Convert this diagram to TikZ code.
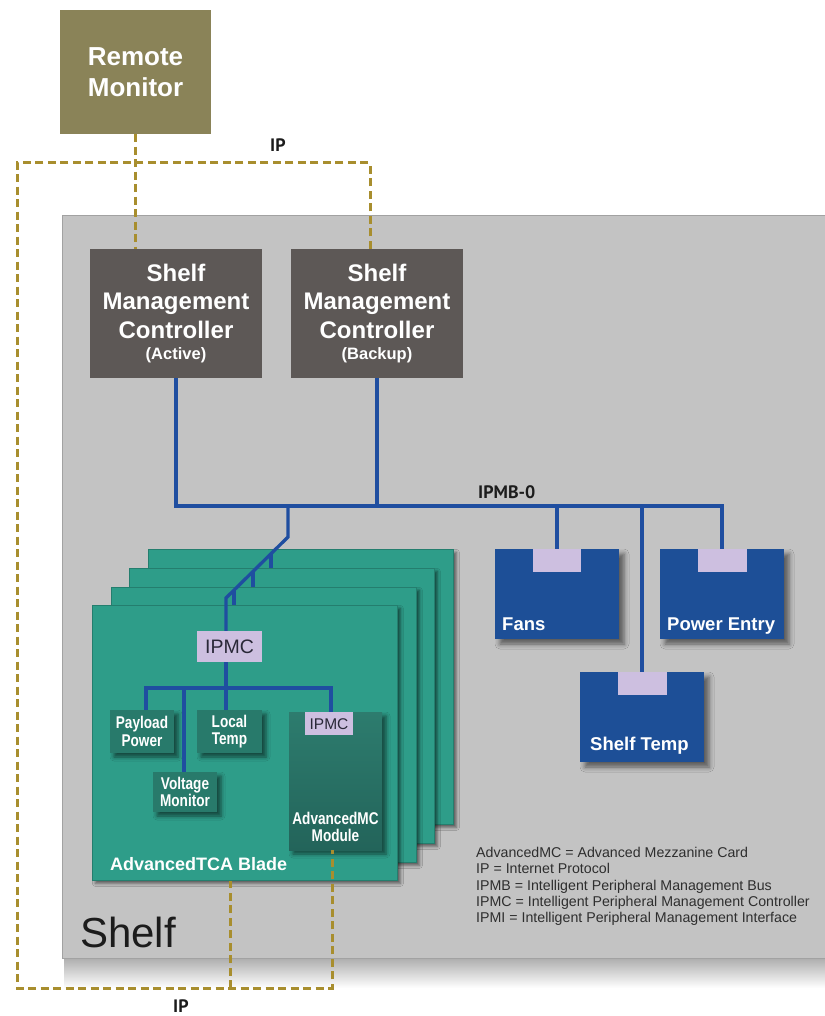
\documentclass[tikz,border=0pt]{standalone}
\usepackage{fontspec}
\setmainfont{Liberation Sans}
\newfontfamily\condfont[FakeStretch=0.8]{Liberation Sans}
\newfontfamily\busfont{PT Sans}
\usetikzlibrary{shadows.blur,calc}

\definecolor{moncol}{HTML}{8A8358}
\definecolor{smccol}{HTML}{5D5856}
\definecolor{shelfcol}{HTML}{C3C3C3}
\definecolor{shelfedge}{HTML}{A2A2A2}
\definecolor{unitcol}{HTML}{1D4F97}
\definecolor{tabcol}{HTML}{CDBFE0}
\definecolor{bladecol}{HTML}{2E9D89}
\definecolor{bladeedge}{HTML}{247E6E}
\definecolor{modcol}{HTML}{287A6B}
\definecolor{amctop}{HTML}{2D7C6E}
\definecolor{amcbot}{HTML}{23645A}
\definecolor{buscol}{HTML}{1F4EA0}
\definecolor{ipcol}{HTML}{A88E2E}
\definecolor{inktext}{HTML}{1C1C1C}
\definecolor{legtext}{HTML}{2E2E2E}
\definecolor{tabtext}{HTML}{2A2838}

\tikzset{
  softshadow/.style={blur shadow={shadow xshift=#1, shadow yshift=-#1,
      shadow blur radius=#1, shadow opacity=55}},
  boxtext/.style={text=white, align=center, inner sep=0pt},
  monbox/.style={boxtext, fill=moncol, minimum width=151pt, minimum height=124pt,
      font=\bfseries\fontsize{26}{31.5}\selectfont},
  smcbox/.style={boxtext, fill=smccol, minimum width=172pt, minimum height=129pt,
      font=\bfseries\fontsize{24}{28.5}\selectfont},
  shelfbox/.style={fill=shelfcol, draw=shelfedge, line width=1pt, inner sep=0pt},
  unitbox/.style={fill=unitcol, minimum width=124pt, minimum height=90pt, inner sep=0pt,
      softshadow=5pt},
  tabbox/.style={fill=tabcol, inner sep=0pt, text=tabtext},
  unitlab/.style={text=white, inner sep=0pt, font=\bfseries\fontsize{18.5}{22}\selectfont},
  blade/.style={fill=bladecol, draw=bladeedge, line width=0.8pt, minimum width=305pt,
      minimum height=275pt, inner sep=0pt, softshadow=3pt},
  modbox/.style={boxtext, fill=modcol, softshadow=4pt,
      font=\condfont\bfseries\fontsize{17}{17.5}\selectfont},
  bus/.style={draw=buscol, line width=3.3pt},
  iplink/.style={draw=ipcol, line width=3pt, dash pattern=on 8pt off 4.5pt},
  buslab/.style={inner sep=0pt, text=inktext, font=\busfont\bfseries\fontsize{18}{20}\selectfont},
}

\begin{document}
\begin{tikzpicture}[x=1pt,y=-1pt]
\useasboundingbox (0,0) rectangle (824,1016);
\fill[white] (0,0) rectangle (824,1016);

% soft shadow under the shelf enclosure
\shade[top color=black!32, bottom color=white] (64,958) rectangle (850,988);

% the shelf enclosure
\node[shelfbox, anchor=north west, minimum width=790pt, minimum height=743pt] (shelf) at (62,215) {};
\node[inner sep=0pt, anchor=base west, text=inktext, font=\fontsize{42}{46}\selectfont]
  (shelfname) at (80,947) {Shelf};

% remote monitor and shelf managers
\node[monbox] (remote) at (135.5,72) {Remote\\Monitor};
\node[smcbox] (smcA) at (176,313.5)
  {Shelf\\Management\\Controller\\[-7.5pt]{\fontsize{16.5}{19}\selectfont(Active)}};
\node[smcbox] (smcB) at (377,313.5)
  {Shelf\\Management\\Controller\\[-7.5pt]{\fontsize{16.5}{19}\selectfont(Backup)}};

% shelf-level units on IPMB-0
\node[unitbox] (fans) at (557,594) {};
\node[unitbox] (power) at (722,594) {};
\node[unitbox] (stemp) at (642,717) {};
\node[tabbox, anchor=north, minimum width=48pt, minimum height=23pt] (fanstab) at (fans.north) {};
\node[tabbox, anchor=north, minimum width=49pt, minimum height=23pt] (powertab) at (power.north) {};
\node[tabbox, anchor=north, minimum width=49pt, minimum height=23pt] (stemptab) at (stemp.north) {};
\node[unitlab, anchor=base west] (fanslab) at (502,630) {Fans};
\node[unitlab, anchor=base west] (powerlab) at (667,630) {Power Entry};
\node[unitlab, anchor=base west] (stemplab) at (590,750) {Shelf Temp};

% stack of AdvancedTCA blades, back to front
\node[blade, anchor=north west] (blade4) at (148,549) {};
\node[blade, anchor=north west] (blade3) at (129,568) {};
\node[blade, anchor=north west] (blade2) at (111,587) {};
\node[blade, anchor=north west] (blade1) at (92,605) {};
\node[text=white, inner sep=0pt, anchor=base west, font=\bfseries\fontsize{18}{20}\selectfont]
  (bladename) at (110,870) {AdvancedTCA Blade};

% front blade contents
\node[tabbox, minimum width=65pt, minimum height=31pt, font=\fontsize{19.5}{22}\selectfont]
  (ipmc) at (229.5,646.5) {IPMC};
\node[modbox, minimum width=64pt, minimum height=43pt] (pp) at (142,731.5) {Payload\\Power};
\node[modbox, minimum width=65pt, minimum height=43pt] (lt) at (229.5,731.5) {Local\\Temp};
\node[modbox, minimum width=64pt, minimum height=40pt] (vm) at (185,792) {Voltage\\Monitor};
\node[inner sep=0pt, minimum width=93pt, minimum height=138pt, softshadow=4pt,
  top color=amctop, bottom color=amcbot] (amc) at (335.5,781) {};
\node[tabbox, anchor=north, minimum width=48pt, minimum height=23pt, font=\fontsize{15.5}{18}\selectfont]
  (amctab) at (329,712) {IPMC};
\node[boxtext, anchor=south, font=\condfont\bfseries\fontsize{17}{17.5}\selectfont]
  (amcname) at ([yshift=8pt]amc.south) {AdvancedMC\\Module};

% IPMB-0 bus
\coordinate (busY) at (0,506);
\draw[bus] (smcA.south) |- (busY -| powertab.north) -- (powertab.north);
\draw[bus] (smcB.south) -- (smcB.south |- busY);
\draw[bus] (fanstab.north) -- (fanstab.north |- busY);
\draw[bus] (stemptab.north) -- (stemptab.north |- busY);
\node[buslab, anchor=base west] (ipmb) at (478,498) {IPMB-0};

% feed into the blade stack
\coordinate (tap) at (288,506);
\coordinate (bend1) at (288,537);
\coordinate (bend2) at (226,598);
\draw[bus] (tap) -- (bend1) -- (bend2) -- (bend2 |- ipmc.north);
\draw[bus] ($(bend1)!0.274!(bend2)$) coordinate (t4) -- (t4 |- blade3.north);
\draw[bus] ($(bend1)!0.565!(bend2)$) coordinate (t3) -- (t3 |- blade2.north);
\draw[bus] ($(bend1)!0.871!(bend2)$) coordinate (t2) -- (t2 |- blade1.north);

% local IPMB inside the front blade
\coordinate (brY) at (0,688);
\draw[bus] (bend2 |- ipmc.south) -- (bend2 |- lt.north);
\draw[bus] ([xshift=4pt]pp.north) |- ([xshift=2pt]amctab.north |- brY) -- ([xshift=2pt]amctab.north);
\draw[bus] ([xshift=-1pt]vm.north) -- ([xshift=-1pt]vm.north |- brY);

% IP network links
\coordinate (ipTL) at (17,163);
\coordinate (ipTR) at (370,163);
\coordinate (ipBL) at (17,988);
\coordinate (ipBR) at (332,988);
\coordinate (ipBM) at (230,988);
\draw[iplink] (remote.south) -- (remote.south |- smcA.north);
\draw[iplink] (ipTR |- smcB.north) -- (ipTR) -- (ipTL) -- (ipBL) -- (ipBR) -- (ipBR |- amc.south);
\draw[iplink] (ipBM) -- (ipBM |- blade1.south);
\node[buslab, anchor=base west] (iptop) at (270,152) {IP};
\node[buslab, anchor=base west] (ipbot) at (173,1012) {IP};

% abbreviations
\node[inner sep=0pt, anchor=north west, align=left, text=legtext, font=\fontsize{14.2}{16.3}\selectfont]
  (legend) at (476,847)
  {AdvancedMC = Advanced Mezzanine Card\\
   IP = Internet Protocol\\
   IPMB = Intelligent Peripheral Management Bus\\
   IPMC = Intelligent Peripheral Management Controller\\
   IPMI = Intelligent Peripheral Management Interface};
\end{tikzpicture}
\end{document}
